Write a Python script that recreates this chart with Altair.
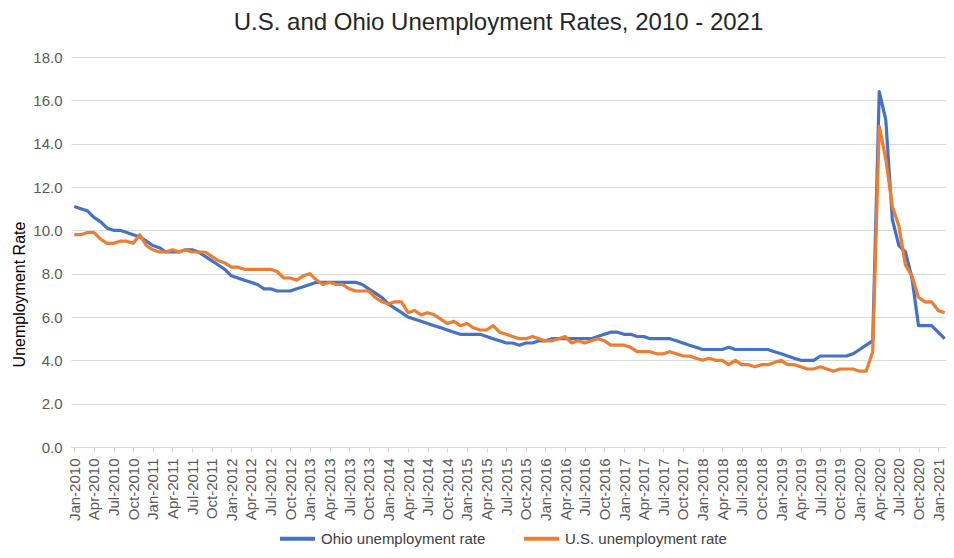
import altair as alt
import pandas as pd

FONT = "Liberation Sans"
TITLE = "U.S. and Ohio Unemployment Rates, 2010 - 2021"
Y_TITLE = "Unemployment Rate"
MONTHS = ["Jan", "Feb", "Mar", "Apr", "May", "Jun", "Jul", "Aug", "Sep", "Oct", "Nov", "Dec"]
START_YEAR = 2010
SERIES = ["Ohio unemployment rate", "U.S. unemployment rate"]
COLORS = ["#4472C4", "#ED7D31"]

OHIO = [
    11.1, 11.0, 10.9, 10.6, 10.4, 10.1, 10.0, 10.0, 9.9, 9.8, 9.7, 9.5,   # 2010
    9.3, 9.2, 9.0, 9.0, 9.0, 9.1, 9.1, 9.0, 8.8, 8.6, 8.4, 8.2,           # 2011
    7.9, 7.8, 7.7, 7.6, 7.5, 7.3, 7.3, 7.2, 7.2, 7.2, 7.3, 7.4,           # 2012
    7.5, 7.6, 7.6, 7.6, 7.6, 7.6, 7.6, 7.6, 7.5, 7.3, 7.1, 6.9,           # 2013
    6.6, 6.4, 6.2, 6.0, 5.9, 5.8, 5.7, 5.6, 5.5, 5.4, 5.3, 5.2,           # 2014
    5.2, 5.2, 5.2, 5.1, 5.0, 4.9, 4.8, 4.8, 4.7, 4.8, 4.8, 4.9,           # 2015
    4.9, 5.0, 5.0, 5.0, 5.0, 5.0, 5.0, 5.0, 5.1, 5.2, 5.3, 5.3,           # 2016
    5.2, 5.2, 5.1, 5.1, 5.0, 5.0, 5.0, 5.0, 4.9, 4.8, 4.7, 4.6,           # 2017
    4.5, 4.5, 4.5, 4.5, 4.6, 4.5, 4.5, 4.5, 4.5, 4.5, 4.5, 4.4,           # 2018
    4.3, 4.2, 4.1, 4.0, 4.0, 4.0, 4.2, 4.2, 4.2, 4.2, 4.2, 4.3,           # 2019
    4.5, 4.7, 4.9, 16.4, 15.1, 10.5, 9.3, 9.0, 7.8, 5.6, 5.6, 5.6,        # 2020
    5.3, 5.0,                                                             # 2021
]

US = [
    9.8, 9.8, 9.9, 9.9, 9.6, 9.4, 9.4, 9.5, 9.5, 9.4, 9.8, 9.3,           # 2010
    9.1, 9.0, 9.0, 9.1, 9.0, 9.1, 9.0, 9.0, 9.0, 8.8, 8.6, 8.5,           # 2011
    8.3, 8.3, 8.2, 8.2, 8.2, 8.2, 8.2, 8.1, 7.8, 7.8, 7.7, 7.9,           # 2012
    8.0, 7.7, 7.5, 7.6, 7.5, 7.5, 7.3, 7.2, 7.2, 7.2, 6.9, 6.7,           # 2013
    6.6, 6.7, 6.7, 6.2, 6.3, 6.1, 6.2, 6.1, 5.9, 5.7, 5.8, 5.6,           # 2014
    5.7, 5.5, 5.4, 5.4, 5.6, 5.3, 5.2, 5.1, 5.0, 5.0, 5.1, 5.0,           # 2015
    4.9, 4.9, 5.0, 5.1, 4.8, 4.9, 4.8, 4.9, 5.0, 4.9, 4.7, 4.7,           # 2016
    4.7, 4.6, 4.4, 4.4, 4.4, 4.3, 4.3, 4.4, 4.3, 4.2, 4.2, 4.1,           # 2017
    4.0, 4.1, 4.0, 4.0, 3.8, 4.0, 3.8, 3.8, 3.7, 3.8, 3.8, 3.9,           # 2018
    4.0, 3.8, 3.8, 3.7, 3.6, 3.6, 3.7, 3.6, 3.5, 3.6, 3.6, 3.6,           # 2019
    3.5, 3.5, 4.4, 14.8, 13.3, 11.1, 10.2, 8.4, 7.9, 6.9, 6.7, 6.7,       # 2020
    6.3, 6.2,                                                             # 2021
]

Y_TICKS = [0, 2, 4, 6, 8, 10, 12, 14, 16, 18]
N = len(OHIO)
X_TICKS = list(range(0, N, 3))

rows = []
for name, vals in zip(SERIES, [OHIO, US]):
    for i, v in enumerate(vals):
        rows.append({"m": i, "series": name, "rate": v})
df = pd.DataFrame(rows)

month_arr = "[" + ",".join("'%s'" % m for m in MONTHS) + "]"
label_expr = f"{month_arr}[datum.value % 12] + '-' + ({START_YEAR} + floor(datum.value / 12))"

x_enc = alt.X(
    "m:Q",
    scale=alt.Scale(domain=[-0.5, N - 0.8], nice=False, zero=False),
    axis=alt.Axis(
        values=X_TICKS, labelExpr=label_expr, labelAngle=-90, title=None,
        labelFont=FONT, labelFontSize=15, labelColor="#595959",
        grid=False, domainColor="#d9d9d9", domainWidth=1,
        tickColor="#d9d9d9", tickSize=5, labelPadding=6, labelOverlap=False,
        labelFlush=False,
    ),
)
y_enc = alt.Y(
    "rate:Q",
    scale=alt.Scale(domain=[0, 18], nice=False),
    axis=alt.Axis(
        values=Y_TICKS, format=".1f", title=Y_TITLE,
        labelFont=FONT, labelFontSize=15, labelColor="#595959",
        titleFont=FONT, titleFontSize=16, titleFontWeight="normal", titleColor="#000000",
        titleX=-47, titleY=237, titleAngle=-90, titleBaseline="alphabetic", titleAlign="center",
        domain=False, ticks=False, tickSize=0, labelPadding=9,
        gridColor="#d9d9d9", gridWidth=1,
    ),
)
color_enc = alt.Color(
    "series:N",
    scale=alt.Scale(domain=SERIES, range=COLORS),
    legend=alt.Legend(
        orient="none", legendX=207, legendY=462, direction="horizontal", title=None,
        symbolType="stroke", symbolStrokeWidth=4, symbolSize=1225,
        labelFont=FONT, labelFontSize=15, labelColor="#404040", labelLimit=400,
        columnPadding=30, labelOffset=4,
    ),
)

base = alt.Chart(df).mark_line(strokeWidth=3.2, strokeJoin="round").encode(
    x=x_enc, y=y_enc, color=color_enc
)
ohio = base.transform_filter(alt.datum.series == SERIES[0])
us = base.transform_filter(alt.datum.series == SERIES[1])

chart = alt.layer(ohio, us).properties(
    width=875,
    height=390,
    title=alt.TitleParams(
        TITLE, font=FONT, fontSize=24, fontWeight="normal", color="#262626",
        anchor="middle", offset=22, dx=-10, dy=7,
    ),
    autosize=alt.AutoSizeParams(type="none"),
    padding={"left": 63, "top": 49, "right": 0, "bottom": 102},
).configure_view(stroke=None)

chart.save("out.html", embed_options={"renderer": "svg", "actions": False})
